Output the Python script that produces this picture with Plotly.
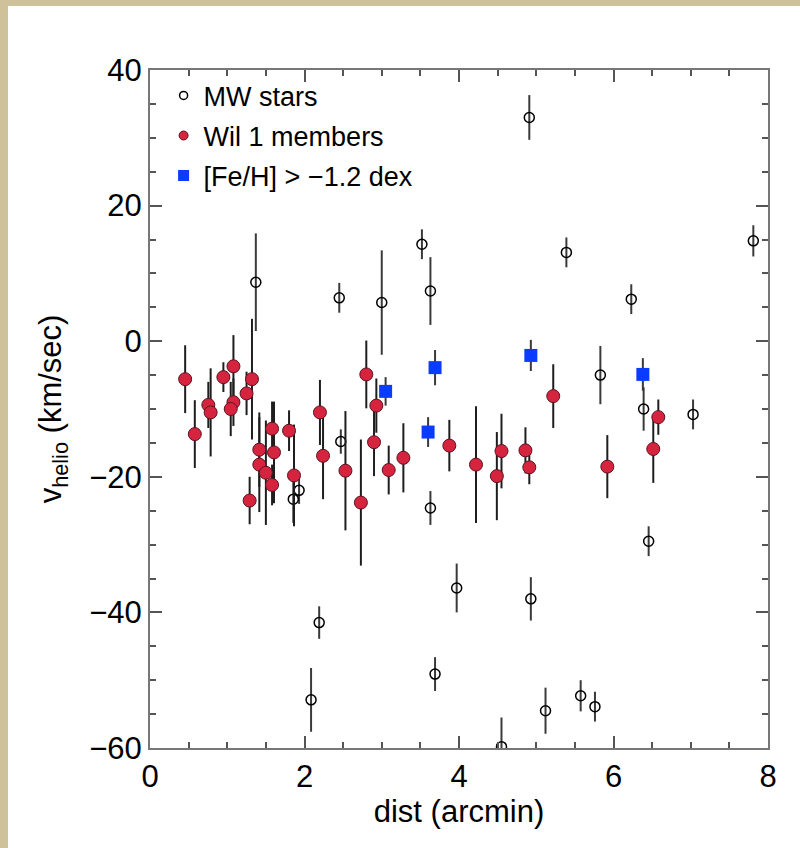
import plotly.graph_objects as go

# Milky Way foreground stars: distance (arcmin), velocity (km/s), velocity error
mw_dist = [4.91, 7.81, 3.52, 5.39, 1.37, 2.45, 3.00, 3.63, 6.23, 5.83, 6.39, 7.03, 2.47,
           1.855, 1.93, 3.63, 6.455, 3.97, 4.93, 2.19, 3.69, 2.085, 5.575, 5.12, 5.76, 4.55]
mw_vel = [33.0, 14.8, 14.3, 13.1, 8.7, 6.4, 5.7, 7.4, 6.2, -5.0, -10.0, -10.8, -14.8,
          -23.3, -22.0, -24.6, -29.5, -36.4, -38.0, -41.5, -49.1, -52.9, -52.3, -54.5, -53.9, -59.8]
mw_err = [3.3, 2.3, 2.2, 2.2, 7.2, 2.2, 7.7, 5.0, 2.2, 4.3, 3.2, 2.2, 1.8,
          3.5, 2.0, 2.5, 2.2, 3.6, 3.2, 2.4, 2.5, 4.7, 2.3, 3.4, 2.2, 4.3]

# Willman 1 members
mem_dist = [0.455, 0.58, 0.755, 0.785, 0.95, 1.08, 1.08, 1.045, 1.25, 1.32, 1.29, 1.415, 1.415,
            1.50, 1.58, 1.605, 1.58, 1.80, 1.864, 2.20, 2.24, 2.53, 2.73, 2.80, 2.90, 2.93,
            3.09, 3.28, 3.875, 4.22, 4.49, 4.55, 4.86, 4.91, 5.22, 5.92, 6.515, 6.58]
mem_vel = [-5.6, -13.7, -9.4, -10.5, -5.3, -3.7, -9.0, -10.0, -7.7, -5.6, -23.5, -16.0, -18.2,
           -19.4, -12.9, -16.4, -21.2, -13.2, -19.8, -10.5, -16.9, -19.1, -23.8, -4.9, -14.9, -9.5,
           -19.0, -17.2, -15.4, -18.2, -19.9, -16.2, -16.1, -18.6, -8.1, -18.5, -15.9, -11.2]
mem_err = [5.0, 5.0, 3.4, 6.5, 2.2, 4.6, 3.5, 4.0, 3.2, 8.9, 3.5, 5.5, 7.0,
           7.7, 4.0, 7.5, 3.0, 3.0, 7.5, 4.8, 6.4, 8.8, 9.3, 5.0, 5.0, 4.0,
           3.6, 5.1, 3.8, 8.6, 6.5, 5.5, 3.4, 2.5, 4.7, 4.65, 5.0, 2.6]

# Metal-rich stars, [Fe/H] > -1.2 dex
rich_dist = [3.05, 3.69, 3.60, 4.93, 6.38]
rich_vel = [-7.4, -3.9, -13.4, -2.1, -4.9]
rich_err = [2.1, 2.6, 2.2, 2.3, 2.4]

legend_names = ["MW stars", "Wil 1 members", "[Fe/H] > \u22121.2 dex"]

FONT = "Liberation Sans, Arial, Helvetica, sans-serif"
W, H = 800, 848
ML, MR, MT, MB = 150, 32, 70, 100

MW_MARK = dict(symbol="circle-open", color="black")
MEM_MARK = dict(symbol="circle", color="#d6243f", line=dict(width=1, color="#5c1322"))
RICH_MARK = dict(symbol="square", color="#0a3cff", line=dict(width=0))

fig = go.Figure()

# data
fig.add_trace(go.Scatter(
    x=mw_dist, y=mw_vel, mode="markers", showlegend=False,
    marker=dict(size=10, line=dict(width=1.5, color="black"), **MW_MARK),
    error_y=dict(type="data", array=mw_err, visible=True, color="#3a3a3a", thickness=2, width=0),
))
fig.add_trace(go.Scatter(
    x=mem_dist, y=mem_vel, mode="markers", showlegend=False,
    marker=dict(size=13, **MEM_MARK),
    error_y=dict(type="data", array=mem_err, visible=True, color="#1e1e1e", thickness=2, width=0),
))
fig.add_trace(go.Scatter(
    x=rich_dist, y=rich_vel, mode="markers", showlegend=False,
    marker=dict(size=13, **RICH_MARK),
    error_y=dict(type="data", array=rich_err, visible=True, color="#3a3a3a", thickness=2, width=0),
))

# legend entries with smaller symbols
for name, mk in zip(legend_names, [
        dict(size=8, line=dict(width=1.5, color="black"), **MW_MARK),
        dict(size=9, **MEM_MARK),
        dict(size=11, **RICH_MARK)]):
    fig.add_trace(go.Scatter(x=[None], y=[None], mode="markers", name=name,
                             marker=mk, legendgroup=name))

# white sheet over the beige page
x0 = (8 - ML) / (W - ML - MR)
x1 = (W - ML) / (W - ML - MR)
y1 = 1 + (MT - 6) / (H - MT - MB)
y0 = -(MB) / (H - MT - MB)
fig.add_shape(type="rect", xref="paper", yref="paper", x0=x0, x1=x1, y0=y0, y1=y1,
              fillcolor="white", line=dict(width=0), layer="below")

axis_common = dict(
    showgrid=False, zeroline=False, showline=True, linecolor="#777", linewidth=2,
    mirror="ticks", ticks="inside", ticklen=12, tickwidth=2, tickcolor="#555",
    tickfont=dict(family=FONT, size=31, color="black"),
)

fig.update_xaxes(
    range=[0, 8], dtick=2, tick0=0,
    minor=dict(dtick=0.5, ticks="inside", ticklen=6, tickwidth=1.5, tickcolor="#555"),
    title=dict(text="dist (arcmin)", font=dict(family=FONT, size=31, color="black"), standoff=6),
    **axis_common,
)
fig.update_yaxes(
    range=[-60, 40], dtick=20, tick0=0,
    minor=dict(dtick=5, ticks="inside", ticklen=6, tickwidth=1.5, tickcolor="#555"),
    title=dict(text="v<sub>helio</sub> (km/sec)", font=dict(family=FONT, size=31, color="black"), standoff=18),
    **axis_common,
)

fig.update_layout(
    width=W, height=H,
    margin=dict(l=ML, r=MR, t=MT, b=MB),
    paper_bgcolor="#cfc29b", plot_bgcolor="white",
    font=dict(family=FONT, color="black"),
    legend=dict(
        x=0.022, y=0.998, xanchor="left", yanchor="top",
        bgcolor="rgba(0,0,0,0)", borderwidth=0,
        font=dict(family=FONT, size=27, color="black"),
        itemwidth=30, tracegroupgap=2,
    ),
    showlegend=True,
)

fig.write_html("out.html")
